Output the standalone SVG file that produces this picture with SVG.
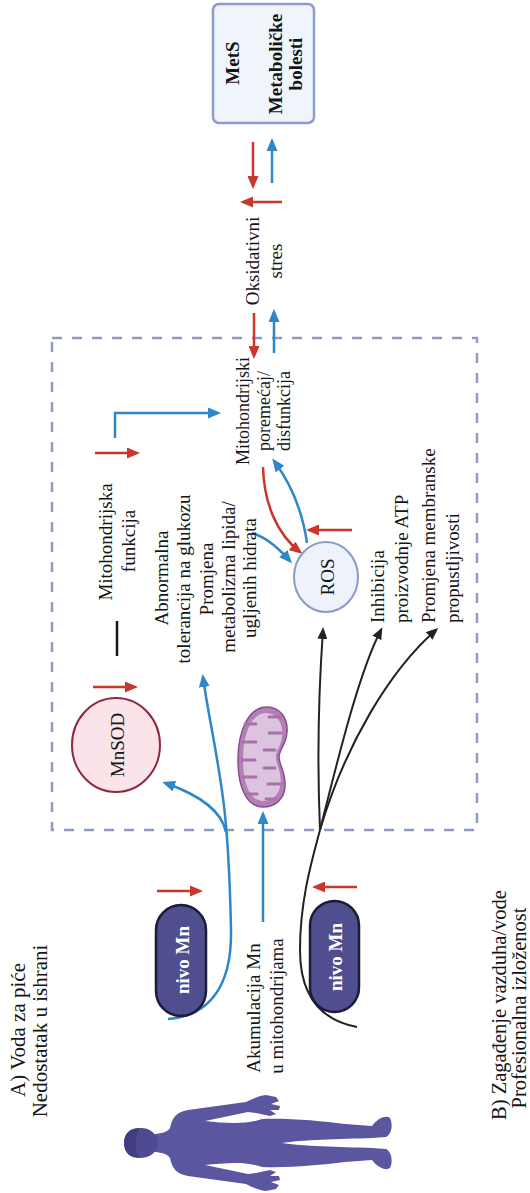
<svg xmlns="http://www.w3.org/2000/svg" width="530" height="1193" viewBox="0 0 530 1193">
  <style>
    .t { font-family: "Liberation Serif", "Times New Roman", serif; font-size: 19px; fill: #151515; dominant-baseline: central; text-anchor: middle; }
    .s { text-anchor: start; }
    .b { font-weight: bold; }
    .w { fill: #ffffff; font-weight: bold; }
    .red { fill: none; stroke: #c9372c; stroke-width: 2.5; marker-end: url(#ar); }
    .blue { fill: none; stroke: #2f86c9; stroke-width: 2.5; marker-end: url(#ab); }
    .blk { fill: none; stroke: #222222; stroke-width: 2; marker-end: url(#ak); }
    .pill { fill: #4f4e8e; stroke: #1c1c3a; stroke-width: 2.5; }
  </style>
  <defs>
    <marker id="ar" markerUnits="userSpaceOnUse" markerWidth="13" markerHeight="11" viewBox="0 0 13 11" refX="10" refY="5.5" orient="auto">
      <path d="M0,0 L13,5.5 L0,11 z" fill="#c9372c"/>
    </marker>
    <marker id="ab" markerUnits="userSpaceOnUse" markerWidth="13" markerHeight="11" viewBox="0 0 13 11" refX="10" refY="5.5" orient="auto">
      <path d="M0,0 L13,5.5 L0,11 z" fill="#2f86c9"/>
    </marker>
    <marker id="ak" markerUnits="userSpaceOnUse" markerWidth="12" markerHeight="10" viewBox="0 0 12 10" refX="9" refY="5" orient="auto">
      <path d="M0,0 L12,5 L0,10 z" fill="#222222"/>
    </marker>
    <path id="bodyHalf" d="M150,1145 L150,1143 L155,1134 C162,1133 166,1133 170,1128 C172,1118 176,1112 188,1110 L246,1102 C252,1099 258,1096 266,1095 L276,1097 L279,1101 L271,1104 L280,1106 L279,1110 L270,1110 L276,1114 L270,1116 L256,1113 L248,1112 L205,1121 C225,1123 245,1125 262,1119 C290,1118 320,1121 345,1124 L372,1126 C378,1118 386,1115 390,1118 C393,1124 392,1134 386,1137 L372,1138 C340,1139 300,1140 282,1143 L282,1145 Z"/>
    <!-- bean outline of the mitochondrion -->
    <path id="mitoShape" d="M267,707 C280,707 288,718 287,732 C286,745 279,750 279,757 C279,765 286,772 285,787 C284,800 274,807 263,807 C248,807 238,790 238,760 C238,728 250,707 267,707 Z"/>
  </defs>

  <!-- dashed frame around the mitochondrial processes -->
  <rect id="frame" x="52" y="338" width="425" height="492" fill="none" stroke="#8f9cc2" stroke-width="2.5" stroke-dasharray="10 10"/>

  <!-- connectors -->
  <g id="connectors">
    <!-- between MetS and oxidative stress -->
    <path class="red" d="M253,142 V186"/>
    <path class="blue" d="M272,183 V141"/>
    <path class="red" d="M282,202 H243"/>
    <!-- between oxidative stress and mitochondrial disorder -->
    <path class="red" d="M254,313 V356"/>
    <path class="blue" d="M274,353 V312"/>
    <!-- mitochondrial function -->
    <path class="red" d="M95,453 H137"/>
    <path class="blue" d="M115,438 V413 H218"/>
    <!-- ROS loop -->
    <path class="red" d="M263,467 C264,505 278,535 300,552"/>
    <path class="blue" d="M307,543 C303,515 292,485 274,461"/>
    <path class="blue" d="M252,533 C268,538 280,550 290,561"/>
    <path class="red" d="M352,530 H309"/>
    <!-- MnSOD -->
    <path class="red" d="M93,687 H135"/>
    <!-- drinking water / diet route -->
    <path class="red" d="M157,891 H200"/>
    <path class="blue" d="M168,1019 C210,1016 232,985 231,930 C230,880 228,845 225,815 C220,765 208,715 203,677"/>
    <path class="blue" d="M226,832 C222,812 200,795 165,783"/>
    <path class="blue" d="M263,922 V814"/>
    <!-- pollution / occupational route -->
    <path class="red" d="M357,887 H315"/>
    <path fill="none" stroke="#222222" stroke-width="2" d="M357,1027 C320,1020 300,995 300,950 C300,900 312,860 320,830"/>
    <path class="blk" d="M320,830 C317,760 318,700 323,630"/>
    <path class="blk" d="M320,830 C340,750 360,670 381,630"/>
    <path class="blk" d="M320,830 C345,745 390,670 436,630"/>
  </g>

  <!-- MetS / metabolic disease -->
  <g id="mets">
    <rect x="213" y="4" width="101" height="119" rx="6" fill="#f0f4fb" stroke="#8d9dc6" stroke-width="2.5"/>
    <text class="t b" transform="translate(232,63) rotate(-90)">MetS</text>
    <text class="t b" transform="translate(275,64) rotate(-90)">Metaboličke</text>
    <text class="t b" transform="translate(295,64) rotate(-90)">bolesti</text>
  </g>

  <g id="oxidative-stress">
    <text class="t" transform="translate(252,261) rotate(-90)">Oksidativni</text>
    <text class="t" transform="translate(275,261) rotate(-90)">stres</text>
  </g>

  <g id="mito-disorder">
    <text class="t" style="font-size:18px" transform="translate(243,411) rotate(-90)">Mitohondrijski</text>
    <text class="t" style="font-size:18px" transform="translate(264,411) rotate(-90)">poremećaj/</text>
    <text class="t" style="font-size:18px" transform="translate(284,411) rotate(-90)">disfunkcija</text>
  </g>

  <g id="mito-function">
    <text class="t" transform="translate(105,542) rotate(-90)">Mitohondrijska</text>
    <text class="t" transform="translate(128,541) rotate(-90)">funkcija</text>
    <line x1="117" y1="621" x2="117" y2="656" stroke="#151515" stroke-width="2.5"/>
  </g>

  <g id="metabolic-effects">
    <text class="t" transform="translate(161,578) rotate(-90)">Abnormalna</text>
    <text class="t" transform="translate(183,579) rotate(-90)">tolerancija na glukozu</text>
    <text class="t" transform="translate(206,579) rotate(-90)">Promjena</text>
    <text class="t" transform="translate(228,577) rotate(-90)">metabolizma lipida/</text>
    <text class="t" transform="translate(249,578) rotate(-90)">ugljenih hidrata</text>
  </g>

  <g id="ros">
    <ellipse cx="326" cy="577" rx="32" ry="35" fill="#eef3fb" stroke="#8a9bc6" stroke-width="2"/>
    <text class="t" transform="translate(327,577) rotate(-90)">ROS</text>
  </g>

  <g id="atp">
    <text class="t s" transform="translate(377,623) rotate(-90)">Inhibicija</text>
    <text class="t s" transform="translate(401,623) rotate(-90)">proizvodnje ATP</text>
  </g>

  <g id="membrane">
    <text class="t s" transform="translate(428,623) rotate(-90)">Promjena membranske</text>
    <text class="t s" transform="translate(452,623) rotate(-90)">propustljivosti</text>
  </g>

  <g id="mnsod">
    <ellipse cx="116" cy="745" rx="44" ry="47" fill="#fbe3ea" stroke="#8e2a40" stroke-width="2"/>
    <text class="t" transform="translate(117,745) rotate(-90)">MnSOD</text>
  </g>

  <!-- mitochondrion: outer membrane, matrix and cristae -->
  <g id="mitochondrion">
    <use href="#mitoShape" fill="#b47fb6" stroke="#84508a" stroke-width="1.5"/>
    <use href="#mitoShape" transform="translate(263,757) scale(0.8,0.88) translate(-263,-757)" fill="#dcc3de"/>
    <g stroke="#a771aa" stroke-width="3" stroke-linecap="round">
      <line x1="245" y1="724" x2="256" y2="724"/>
      <line x1="243" y1="742" x2="256" y2="742"/>
      <line x1="243" y1="760" x2="255" y2="760"/>
      <line x1="243" y1="777" x2="256" y2="777"/>
      <line x1="247" y1="794" x2="257" y2="794"/>
      <line x1="280" y1="717" x2="269" y2="717"/>
      <line x1="281" y1="733" x2="269" y2="733"/>
      <line x1="275" y1="750" x2="264" y2="750"/>
      <line x1="275" y1="768" x2="264" y2="768"/>
      <line x1="280" y1="784" x2="268" y2="784"/>
      <line x1="275" y1="799" x2="266" y2="799"/>
    </g>
  </g>

  <g id="mn-level-a">
    <rect class="pill" x="156" y="905" width="50" height="111" rx="25"/>
    <text class="t w" transform="translate(182,960) rotate(-90)">nivo Mn</text>
  </g>

  <g id="mn-level-b">
    <rect class="pill" x="310" y="901" width="49" height="111" rx="24.5"/>
    <text class="t w" transform="translate(335,957) rotate(-90)">nivo Mn</text>
  </g>

  <g id="accumulation">
    <text class="t" transform="translate(253,1008) rotate(-90)">Akumulacija Mn</text>
    <text class="t" transform="translate(276,1006) rotate(-90)">u mitohondrijama</text>
  </g>

  <g id="source-a">
    <text class="t" style="font-size:21px" transform="translate(18,1030) rotate(-90)">A) Voda za piće</text>
    <text class="t" style="font-size:21px" transform="translate(40,1031) rotate(-90)">Nedostatak u ishrani</text>
  </g>

  <g id="source-b">
    <text class="t" style="font-size:20.5px" transform="translate(499,1005) rotate(-90)">B) Zagađenje vazduha/vode</text>
    <text class="t" style="font-size:20.5px" transform="translate(519,1008) rotate(-90)">Profesionalna izloženost</text>
  </g>

  <!-- human figure lying along the bottom -->
  <g id="human" fill="#5a57a0">
    <use href="#bodyHalf"/>
    <use href="#bodyHalf" transform="translate(0,2286) scale(1,-1)"/>
    <ellipse cx="141" cy="1143" rx="17" ry="15" fill="#4e4b93"/>
    <path d="M124,1143 C124,1132 131,1128 140,1128 C135,1134 134,1152 140,1158 C131,1158 124,1154 124,1143 Z" fill="#403d82"/>
  </g>
</svg>
